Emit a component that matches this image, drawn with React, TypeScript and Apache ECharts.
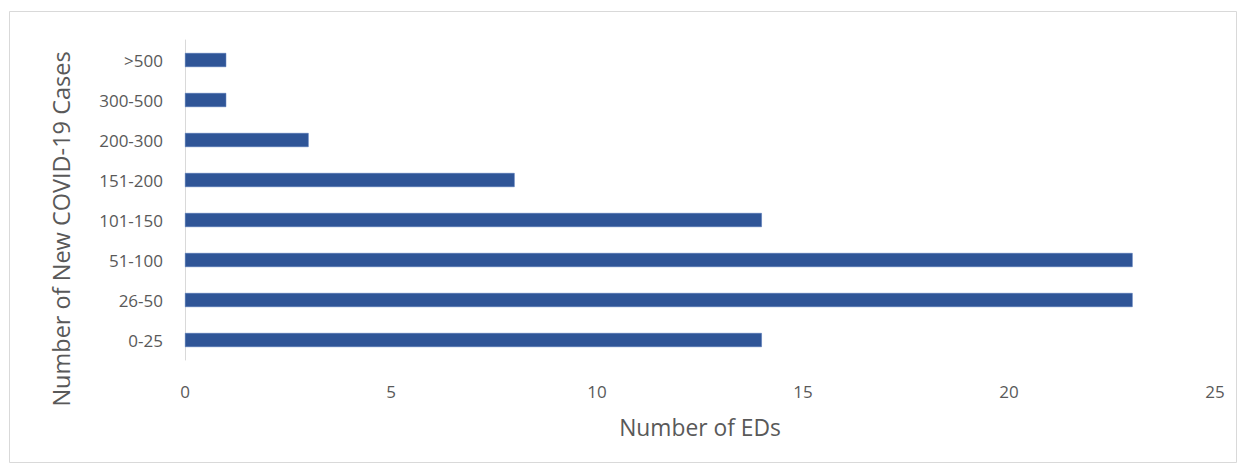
import React, { useEffect, useRef } from "react";
import * as echarts from "echarts";

const categories = ["0-25", "26-50", "51-100", "101-150", "151-200", "200-300", "300-500", ">500"];
const values = [14, 23, 23, 14, 8, 3, 1, 1];
const xTicks = [0, 5, 10, 15, 20, 25];
const yAxisTitle = "Number of New COVID-19 Cases";
const xAxisTitle = "Number of EDs";

export default function App() {
  const ref = useRef<HTMLDivElement>(null);
  useEffect(() => {
    const chart = echarts.init(ref.current!, null, { renderer: "svg" });
    const font = "'Open Sans', 'Liberation Sans', sans-serif";
    chart.setOption({
      animation: false,
      backgroundColor: "#ffffff",
      graphic: [
        {
          type: "rect",
          shape: { x: 9.5, y: 11.5, width: 1227, height: 451 },
          style: { fill: "none", stroke: "#d9d9d9", lineWidth: 1 },
          silent: true,
        },
        {
          type: "text",
          x: 61,
          y: 229,
          rotation: Math.PI / 2,
          style: {
            text: yAxisTitle,
            fill: "#595959",
            fontSize: 23.5,
            fontFamily: font,
            align: "center",
            verticalAlign: "middle",
          },
          silent: true,
        },
      ],
      grid: { left: 185, right: 31, top: 40, bottom: 112 },
      xAxis: {
        type: "value",
        min: xTicks[0],
        max: xTicks[xTicks.length - 1],
        interval: 5,
        name: xAxisTitle,
        nameLocation: "middle",
        nameGap: 56,
        nameTextStyle: { color: "#595959", fontSize: 22.8, fontFamily: font },
        axisLine: { show: false },
        axisTick: { show: false },
        splitLine: { show: false },
        axisLabel: { color: "#595959", fontSize: 17, fontFamily: font, margin: 23 },
      },
      yAxis: {
        type: "category",
        data: categories,
        axisLine: { show: true, lineStyle: { color: "#d9d9d9", width: 1 } },
        axisTick: { show: false },
        axisLabel: { color: "#595959", fontSize: 17, fontFamily: font, margin: 22 },
      },
      series: [
        {
          type: "bar",
          data: values,
          barWidth: "35%",
          itemStyle: { color: "#2F5597", borderColor: "#4a70b5", borderWidth: 0.5 },
        },
      ],
    });
    return () => chart.dispose();
  }, []);
  return (
    <div
      ref={ref}
      style={{ position: "absolute", left: 0, top: 0, width: 1246, height: 472 }}
    />
  );
}
